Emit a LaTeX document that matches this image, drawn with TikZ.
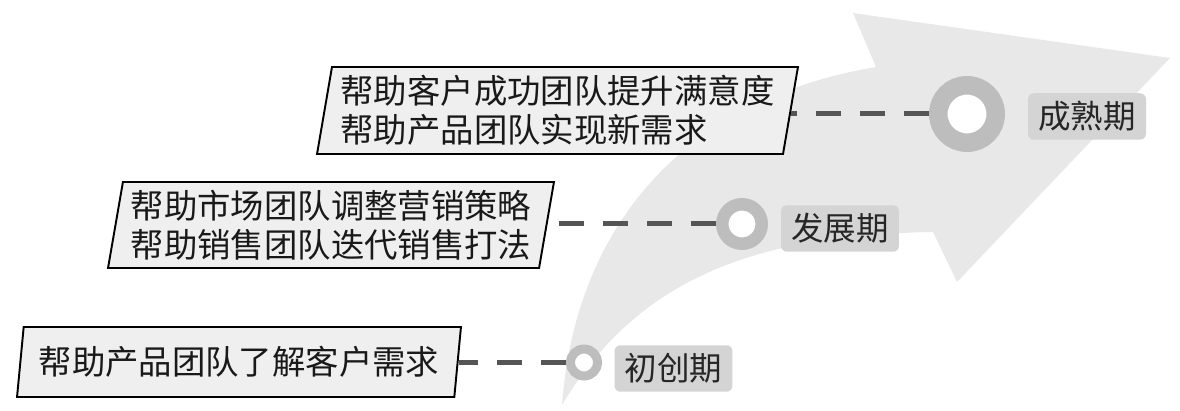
\documentclass[tikz,border=0pt]{standalone}
\usepackage{fontspec}
\setmainfont{Noto Sans CJK SC}
\usetikzlibrary{calc}
\usetikzlibrary{shapes.geometric}

\definecolor{arrowgray}{HTML}{E8E8E8}
\definecolor{ringgray}{HTML}{BDBDBD}
\definecolor{tabgray}{HTML}{D4D4D4}
\definecolor{dashgray}{HTML}{555555}
\definecolor{boxgray}{HTML}{EFEFEF}

\begin{document}
\begin{tikzpicture} [x=0.02cm, y=-0.02cm,
  callout/.style={trapezium, trapezium left angle=78, trapezium right angle=102, trapezium stretches body, draw=black, line width=1.1pt, fill=boxgray, align=left, inner sep=0pt, font=\fontsize{19}{22.2}\selectfont, text=black!90},
  stage/.style={circle, draw=ringgray, fill=white, inner sep=0pt},
  tab/.style={rounded corners=0.12cm, fill=tabgray, minimum width=2.36cm, minimum height=0.93cm, inner sep=0pt, font=\fontsize{18.5}{22}\selectfont, text=black!85},
  link/.style={dashgray, line width=0.1cm, dash pattern=on 0.5cm off 0.38cm}]
\useasboundingbox (0,0) rectangle (1180,411);

% big arrow behind
\fill[arrowgray] (562,405) .. controls (575,230) and (680,100) .. (876,67) -- (853,13) -- (1170,58) -- (957,282) -- (933,232) .. controls (760,235) and (640,275) .. (562,405) -- cycle;

% callouts
\node[callout, minimum width=9.62cm, minimum height=1.74cm] (help3) at (557.5,110.5) {帮助客户成功团队提升满意度\\帮助产品团队实现新需求};
\node[callout, minimum width=8.92cm, minimum height=1.72cm] (help2) at (331,225) {帮助市场团队调整营销策略\\帮助销售团队迭代销售打法};
\node[callout, minimum width=8.88cm, minimum height=1.4cm] (help1) at (239,362) {帮助产品团队了解客户需求};

% rings
\node[stage, line width=0.37cm, minimum size=1.15cm] (ring3) at (967,114) {};
\node[stage, line width=0.25cm, minimum size=0.79cm] (ring2) at (742,224) {};
\node[stage, line width=0.18cm, minimum size=0.54cm] (ring1) at (584,362.5) {};

% stage tabs
\node[tab] (stage3) at (1087,116.5) {成熟期};
\node[tab] (stage2) at (840,228.5) {发展期};
\node[tab] (stage1) at (673.5,368.5) {初创期};

\foreach \i in {1,2,3}
\draw[link] (ring\i.west) -- (ring\i.west -| help\i.east);

\end{tikzpicture}
\end{document}
